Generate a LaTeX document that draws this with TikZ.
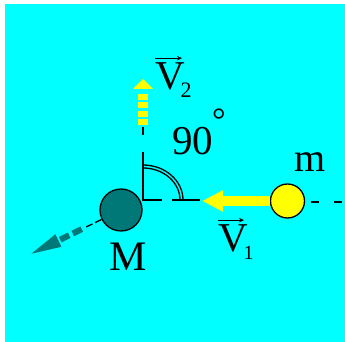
\documentclass[tikz,border=0pt]{standalone}
\usepackage{fontspec}
\setmainfont{Liberation Serif}
\usetikzlibrary{arrows.meta}
\definecolor{bgcyan}{RGB}{0,255,255}
\definecolor{mteal}{RGB}{0,120,120}
\definecolor{yel}{RGB}{255,255,0}
\tikzset{
  lbl/.style={inner sep=0pt, outer sep=0pt, font=\fontsize{41}{41}\selectfont},
  ball/.style={circle, draw=black, line width=1.3pt, inner sep=0pt},
  axis/.style={black, line width=1.3pt},
  vecarrow/.style={black, line width=1pt, -{Stealth[length=5pt,width=4.5pt]}},
}
\newcommand{\lowsub}[2]{\raisebox{-8pt}{\fontsize{#1}{#1}\selectfont #2}}
\begin{document}
\begin{tikzpicture}[x=1pt,y=1pt]
\useasboundingbox (0,0) rectangle (345,342);
\fill[bgcyan] (5,0) rectangle (345,338);

% axes
\coordinate (O) at (143,142);
\coordinate (vtop) at (143,190);
\coordinate (hend) at (162,142);
\draw[axis] (vtop) -- (O) -- (hend);
\coordinate (vd1) at (143,215);
\coordinate (vd2) at (143,207);
\draw[axis] (vd1) -- (vd2);
\coordinate (h2a) at (172,142);
\coordinate (h2b) at (200,142);
\draw[axis] (h2a) -- (h2b);

% right-angle double arc
\draw[axis] (143,177) arc[start angle=90, end angle=0, x radius=40, y radius=35];
\draw[axis] (143,174) arc[start angle=90, end angle=0, x radius=37, y radius=32];

% V2 dashed yellow arrow
\coordinate (v2a) at (143,248);
\coordinate (v2b) at (143,217);
\draw[yel, line width=10pt, dash pattern=on 6pt off 2.5pt] (v2a) -- (v2b);
\fill[yel] (133,253) -- (153,253) -- (143,263) -- cycle;

% balls
\node[ball, fill=mteal, minimum size=42pt] (M) at (121,132) {};
\node[ball, fill=yel, minimum size=34pt] (m) at (287.5,141) {};

% V1 arrow
\coordinate (v1tip) at (202,141);
\draw[yel, line width=10pt, -{Triangle[length=21pt,width=20pt]}] (m.west) -- (v1tip);

% dashes right of m
\coordinate (mr) at (342,140);
\draw[axis, dash pattern=on 8pt off 15pt] ([shift={(5.5,-1)}]m.east) -- (mr);

% teal dashed arrow from M
\begin{scope}[shift={(M.206)}, rotate=206]
  \draw[axis, dash pattern=on 7pt off 3pt] (0,0) -- (17,0);
  \draw[mteal, line width=6pt, dash pattern=on 10pt off 4pt] (22,0) -- (46,0);
  \fill[mteal] (48,7) -- (78,0) -- (48,-7) -- cycle;
\end{scope}

% labels
\node[lbl, anchor=base west] (V2) at (155,252) {V\kern-4pt\lowsub{22}{2}};
\draw[vecarrow] ([yshift=5pt]V2.north west) -- ([shift={(27,5)}]V2.north west);

\node[lbl, anchor=base west] (V1) at (218,90) {V\kern-4pt\lowsub{20}{1}};
\draw[vecarrow] ([yshift=5pt]V1.north west) -- ([shift={(26,5)}]V1.north west);

\node[lbl] (ang) at (192.5,201) {90};
\node[inner sep=0pt, font=\fontsize{34}{34}\selectfont] (deg) at (219,222) {°};

\node[lbl, font=\fontsize{40}{40}\selectfont] (mlab) at (310,180) {m};
\node[lbl, font=\fontsize{42}{42}\selectfont] (Mlab) at (128.5,85) {M};
\end{tikzpicture}
\end{document}
